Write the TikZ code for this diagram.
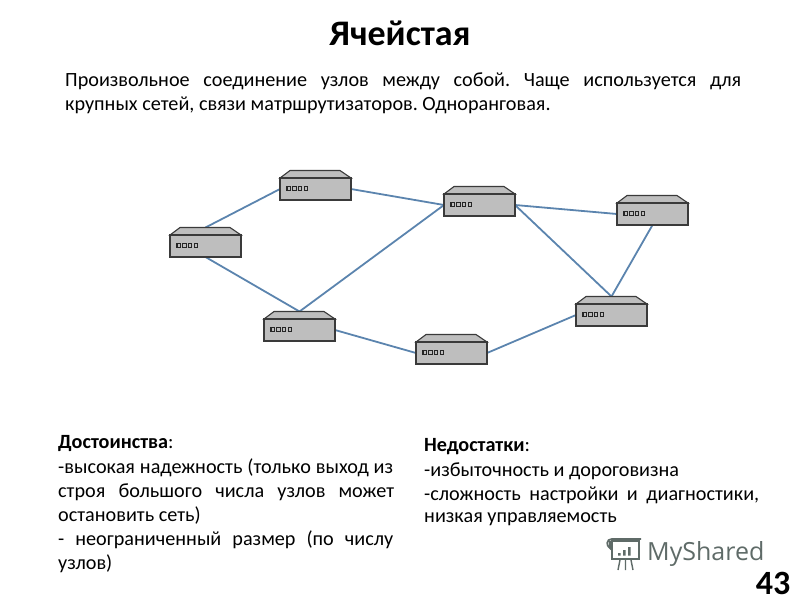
\documentclass[tikz,border=0pt]{standalone}
\usepackage{fontspec}
\setmainfont{Carlito}
\newfontfamily\logofont{Open Sans}
\usetikzlibrary{backgrounds,calc}
\definecolor{linkblue}{HTML}{5B84AE}
\definecolor{boxgray}{HTML}{BEBEBE}
\definecolor{boxedge}{HTML}{3A3A3A}
\definecolor{logogray}{HTML}{5F6B68}
\tikzset{
  routerbox/.style={draw=boxedge,line width=1.1pt,fill=boxgray,minimum width=71pt,minimum height=22pt,inner sep=0pt,outer sep=0pt},
  roof/.style={draw=boxedge,line width=1.1pt,fill=boxgray},
  led/.style={draw=black!85,line width=1.1pt,fill=boxgray},
  link/.style={draw=linkblue,line width=1.8pt},
  body/.style={anchor=west,inner sep=0pt,font=\fontsize{20.2}{24}\selectfont\frenchspacing,text=black},
  logobar/.style={draw=none,fill=logogray}
}
\newcommand{\router}[3]{%
  \path[roof] (#2,#3) -- (#2+10,#3-7.5) -- (#2+60,#3-7.5) -- (#2+71,#3) -- cycle;
  \node[routerbox,anchor=north west] (#1) at (#2,#3) {};
  \coordinate (#1-t) at (#2+35.5,#3-7.5);
  \foreach \k in {0,1,2,3}{\path[led] (#2+7+\k*5.7,#3+8.8) rectangle +(3.4,3.4);}
}
\newcommand{\just}[2]{\makebox[#1pt][s]{#2}}
\begin{document}
\begin{tikzpicture}[x=1pt,y=-1pt]
\useasboundingbox (0,0) rectangle (800,600);
\node[anchor=center,inner sep=0pt,font=\fontsize{36}{42}\selectfont\bfseries] (title) at (400,33) {Ячейстая};
\node[body] (p1) at (65,81) {\just{676}{Произвольное соединение узлов между собой. Чаще используется для}};
\node[body] (p2) at (65,105) {крупных сетей, связи матршрутизаторов. Одноранговая.};

\router{a}{170}{235}
\router{b}{280}{178}
\router{c}{444}{194}
\router{d}{617}{203}
\router{e}{576}{304}
\router{f}{416}{342}
\router{g}{264}{319}
\begin{scope}[on background layer]
\draw[link] (a-t) -- (b.west);
\draw[link] (a.south) -- (g-t);
\draw[link] (g-t) -- (c.west);
\draw[link] (b.east) -- (c.west);
\draw[link] (c.east) -- (d.west);
\draw[link] (c.east) -- (e-t);
\draw[link] (d.south) -- (e-t);
\draw[link] (e.west) -- (f.east);
\draw[link] (f.west) -- (g.east);
\end{scope}

\node[body] (adv) at (58,443) {\textbf{Достоинства}:};
\node[body] (a1) at (58,468) {\just{335}{-высокая надежность (только выход из}};
\node[body] (a2) at (58,492) {\just{336}{строя большого числа узлов может}};
\node[body] (a3) at (58,516) {остановить сеть)};
\node[body] (a4) at (58,540) {\just{335}{- неограниченный размер (по числу}};
\node[body] (a5) at (58,564) {узлов)};

\node[body] (dis) at (424,447) {\textbf{Недостатки}:};
\node[body] (d1) at (424,471) {-избыточность и дороговизна};
\node[body] (d2) at (424,495) {\just{335}{-сложность настройки и диагностики,}};
\node[body] (d3) at (424,519) {низкая управляемость};

\draw[logogray,line width=1.8pt] (612,541) rectangle (639,559);
\draw[logogray,line width=1.8pt] (610,541) -- (610,548) .. controls (606,546) and (606,539) .. (612,539) -- (641,539);
\path[logobar] (618,553) rectangle +(2.5,2.5) (623,550) rectangle +(2.5,5.5) (628,547) rectangle +(2.5,8.5);
\draw[logogray,line width=1.4pt] (620,560) -- (618,570) (625.5,560) -- (625.5,570) (631,560) -- (633,570);
\node[anchor=west,inner sep=0pt,text=logogray,font=\logofont\fontsize{25}{28}\selectfont] (logo) at (647,554) {MyShared};
\node[anchor=center,inner sep=0pt,font=\fontsize{34}{38}\selectfont\bfseries] (num) at (773,583) {43};
\end{tikzpicture}
\end{document}
